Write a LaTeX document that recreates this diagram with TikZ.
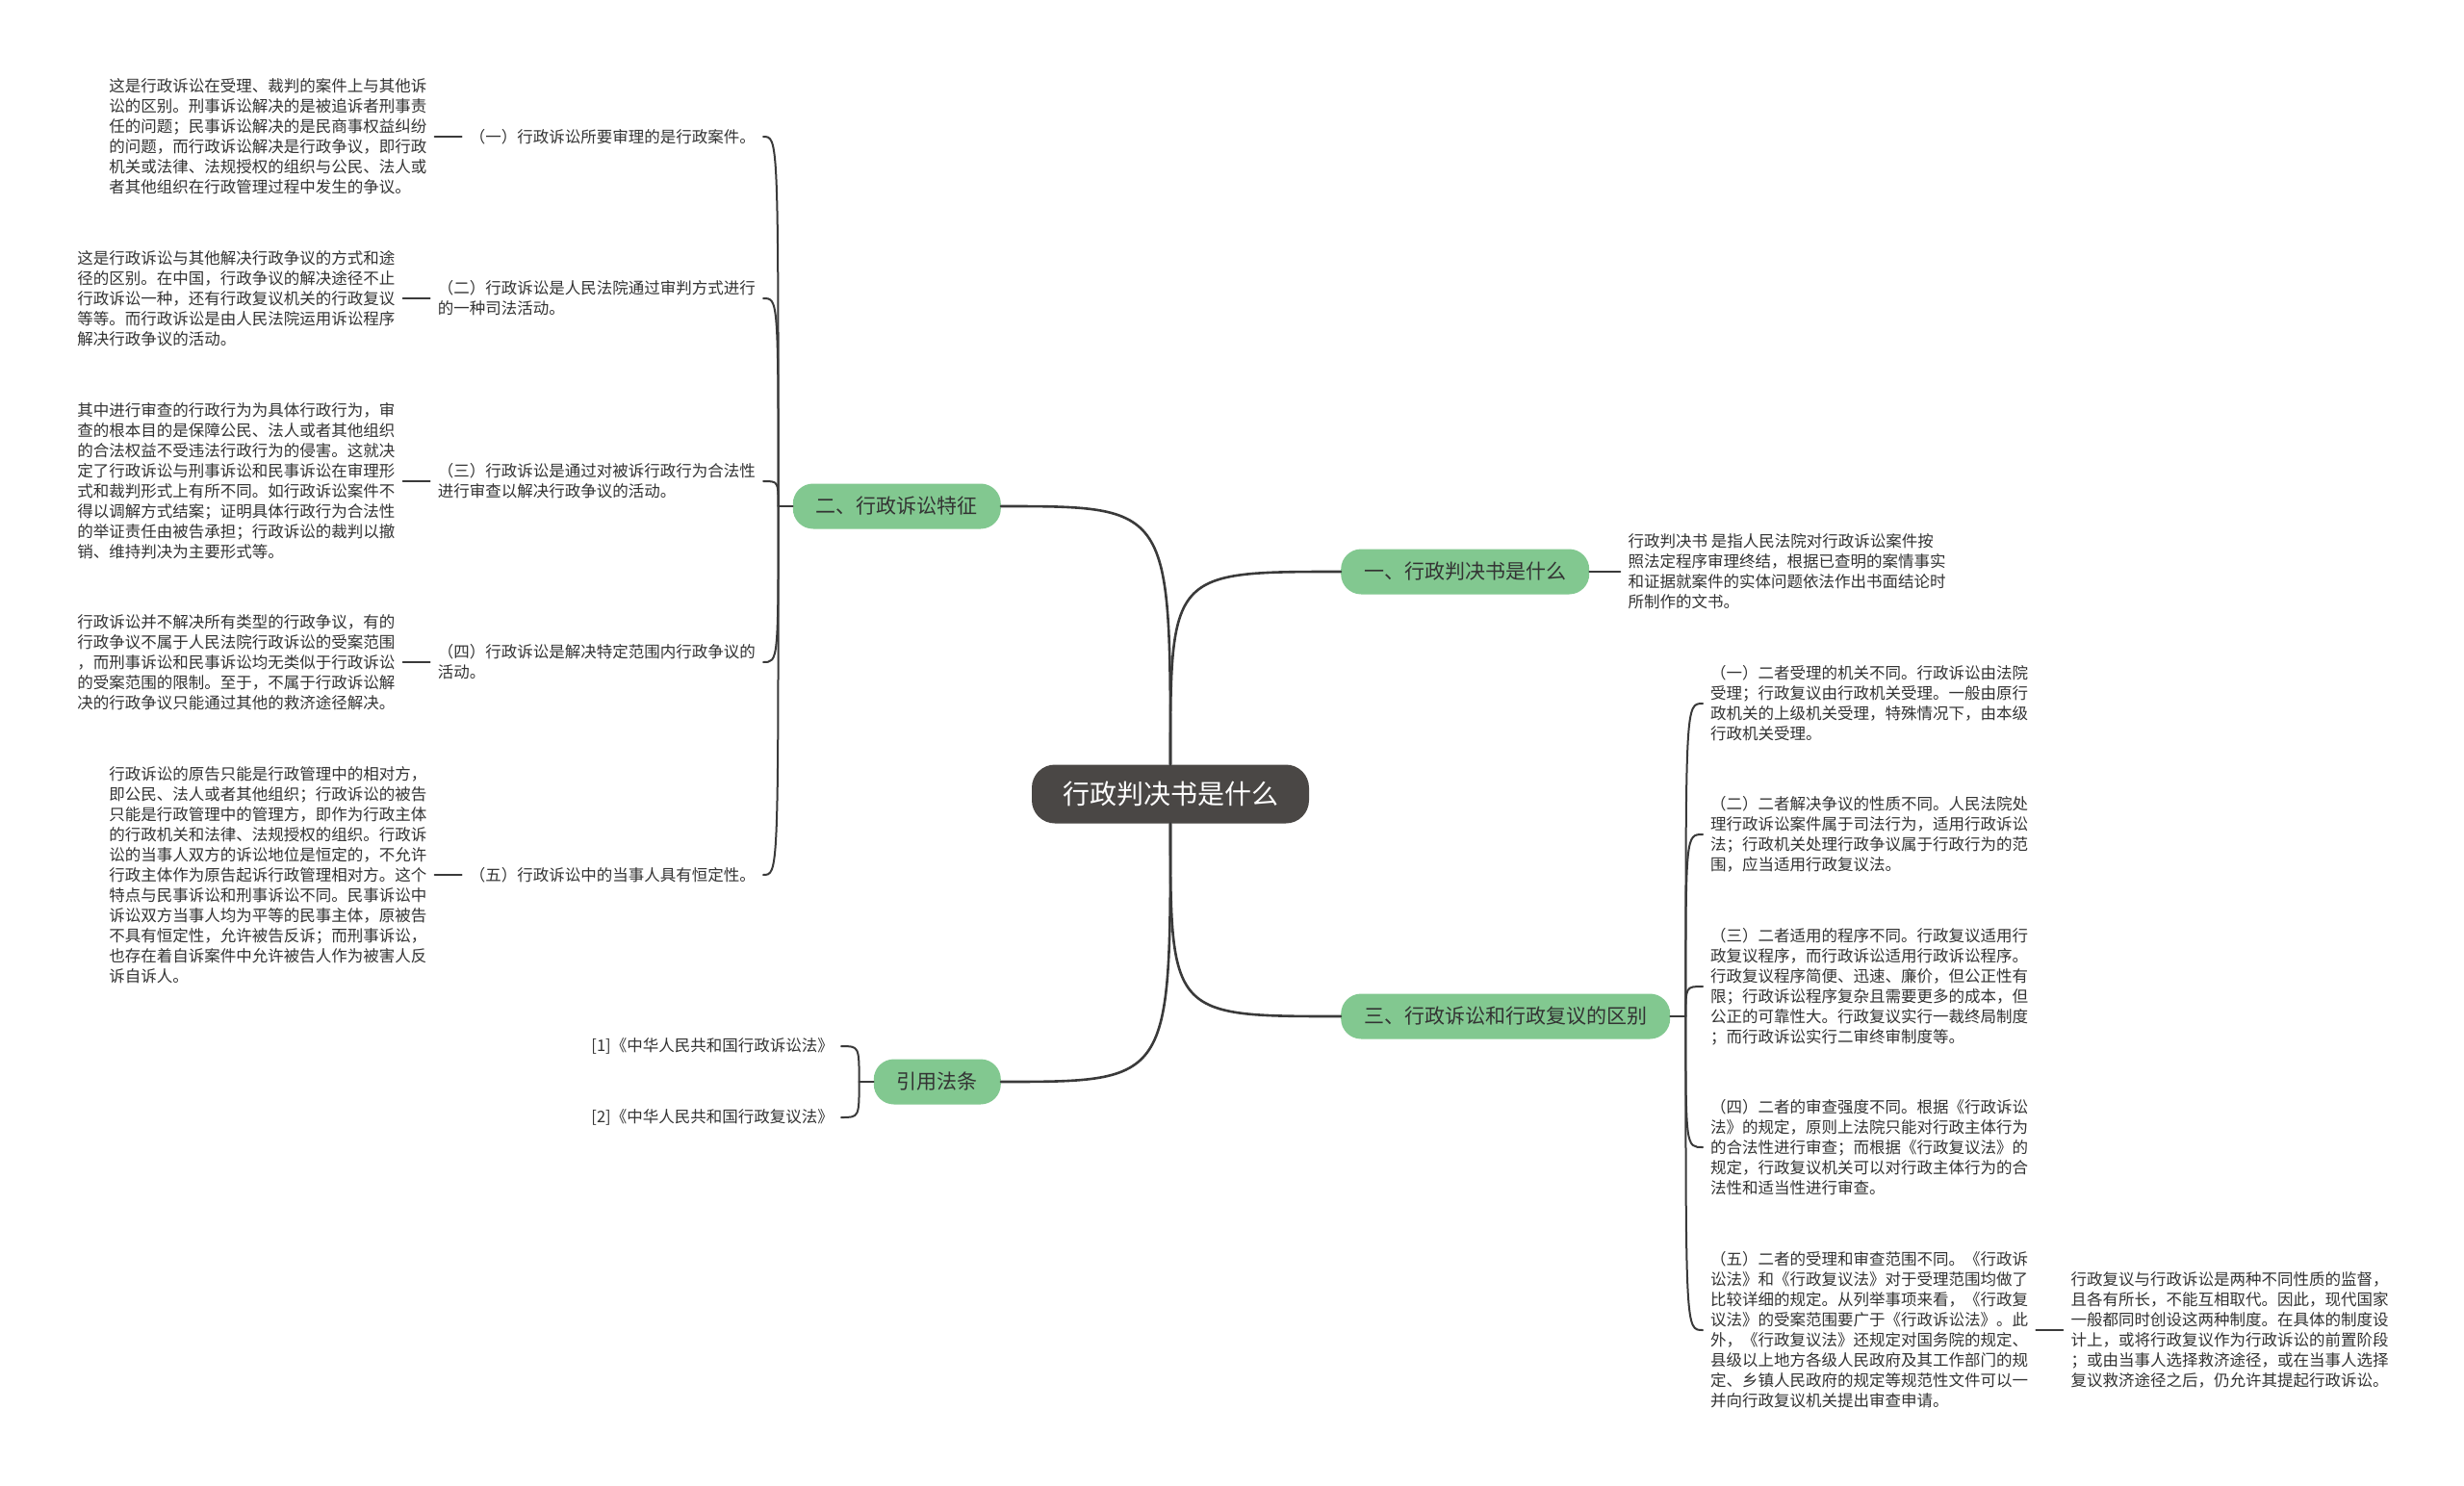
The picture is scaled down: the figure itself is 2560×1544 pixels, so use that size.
\documentclass[tikz,border=0pt]{standalone}
\usepackage{fontspec}
\setmainfont{Noto Sans CJK SC}
\usetikzlibrary{positioning}
\definecolor{rootgray}{HTML}{4A4745}
\definecolor{topicgreen}{HTML}{82C890}
\definecolor{inkgray}{HTML}{333333}
\definecolor{wiregray}{HTML}{3A3A3A}
\begin{document}
\begin{tikzpicture}[x=1pt, y=-1pt, line join=round, line cap=round]
	\tikzset{
		rootnode/.style={fill=rootgray, text=white, rounded corners=24pt, minimum height=61pt, inner xsep=32pt, font=\fontsize{28}{34}\selectfont},
		topicnode/.style={fill=topicgreen, text=inkgray, rounded corners=21pt, minimum height=47pt, inner xsep=24pt, font=\fontsize{21}{26}\selectfont},
		textnode/.style={align=left, text=inkgray, inner xsep=8pt, inner ysep=3pt, font=\fontsize{16.5}{21}\selectfont},
		wire/.style={draw=wiregray, line width=2pt},
		mainwire/.style={draw=wiregray, line width=2.6pt}
	}
	\fill[white] (0,0) rectangle (2560,1544);
	\useasboundingbox (0,0) rectangle (2560,1544);
	% centre and main topics
	\node[rootnode] (root) at (1216,825) {行政判决书是什么};
	\node[topicnode, anchor=west] (t1) at (1393,594) {一、行政判决书是什么};
	\node[topicnode, anchor=east] (t2) at (1040,526) {二、行政诉讼特征};
	\node[topicnode, anchor=west] (t3) at (1393,1056) {三、行政诉讼和行政复议的区别};
	\node[topicnode, anchor=east] (t4) at (1040,1124) {引用法条};
	\coordinate[left=15pt of t2] (j2);
	\coordinate[right=16pt of t3] (j3);
	\coordinate[left=15pt of t4] (j4);
	% 一
	\node[textnode, right=32pt of t1] (d1) {行政判决书 是指人民法院对行政诉讼案件按\\照法定程序审理终结，根据已查明的案情事实\\和证据就案件的实体问题依法作出书面结论时\\所制作的文书。};
	% 二
	\node[textnode, anchor=east] (f1) at (793,142) {（一）行政诉讼所要审理的是行政案件。};
	\node[textnode, anchor=east] (f2) at (793,310) {（二）行政诉讼是人民法院通过审判方式进行\\的一种司法活动。};
	\node[textnode, anchor=east] (f3) at (793,500) {（三）行政诉讼是通过对被诉行政行为合法性\\进行审查以解决行政争议的活动。};
	\node[textnode, anchor=east] (f4) at (793,688) {（四）行政诉讼是解决特定范围内行政争议的\\活动。};
	\node[textnode, anchor=east] (f5) at (793,909) {（五）行政诉讼中的当事人具有恒定性。};
	\node[textnode, left=28pt of f1] (e1) {这是行政诉讼在受理、裁判的案件上与其他诉\\讼的区别。刑事诉讼解决的是被追诉者刑事责\\任的问题；民事诉讼解决的是民商事权益纠纷\\的问题，而行政诉讼解决是行政争议，即行政\\机关或法律、法规授权的组织与公民、法人或\\者其他组织在行政管理过程中发生的争议。};
	\node[textnode, left=28pt of f2] (e2) {这是行政诉讼与其他解决行政争议的方式和途\\径的区别。在中国，行政争议的解决途径不止\\行政诉讼一种，还有行政复议机关的行政复议\\等等。而行政诉讼是由人民法院运用诉讼程序\\解决行政争议的活动。};
	\node[textnode, left=28pt of f3] (e3) {其中进行审查的行政行为为具体行政行为，审\\查的根本目的是保障公民、法人或者其他组织\\的合法权益不受违法行政行为的侵害。这就决\\定了行政诉讼与刑事诉讼和民事诉讼在审理形\\式和裁判形式上有所不同。如行政诉讼案件不\\得以调解方式结案；证明具体行政行为合法性\\的举证责任由被告承担；行政诉讼的裁判以撤\\销、维持判决为主要形式等。};
	\node[textnode, left=28pt of f4] (e4) {行政诉讼并不解决所有类型的行政争议，有的\\行政争议不属于人民法院行政诉讼的受案范围\\，而刑事诉讼和民事诉讼均无类似于行政诉讼\\的受案范围的限制。至于，不属于行政诉讼解\\决的行政争议只能通过其他的救济途径解决。};
	\node[textnode, left=28pt of f5] (e5) {行政诉讼的原告只能是行政管理中的相对方，\\即公民、法人或者其他组织；行政诉讼的被告\\只能是行政管理中的管理方，即作为行政主体\\的行政机关和法律、法规授权的组织。行政诉\\讼的当事人双方的诉讼地位是恒定的，不允许\\行政主体作为原告起诉行政管理相对方。这个\\特点与民事诉讼和刑事诉讼不同。民事诉讼中\\诉讼双方当事人均为平等的民事主体，原被告\\不具有恒定性，允许被告反诉；而刑事诉讼，\\也存在着自诉案件中允许被告人作为被害人反\\诉自诉人。};
	% 三
	\node[textnode, anchor=west] (g1) at (1769,731) {（一）二者受理的机关不同。行政诉讼由法院\\受理；行政复议由行政机关受理。一般由原行\\政机关的上级机关受理，特殊情况下，由本级\\行政机关受理。};
	\node[textnode, anchor=west] (g2) at (1769,867) {（二）二者解决争议的性质不同。人民法院处\\理行政诉讼案件属于司法行为，适用行政诉讼\\法；行政机关处理行政争议属于行政行为的范\\围，应当适用行政复议法。};
	\node[textnode, anchor=west] (g3) at (1769,1025) {（三）二者适用的程序不同。行政复议适用行\\政复议程序，而行政诉讼适用行政诉讼程序。\\行政复议程序简便、迅速、廉价，但公正性有\\限；行政诉讼程序复杂且需要更多的成本，但\\公正的可靠性大。行政复议实行一裁终局制度\\；而行政诉讼实行二审终审制度等。};
	\node[textnode, anchor=west] (g4) at (1769,1192) {（四）二者的审查强度不同。根据《行政诉讼\\法》的规定，原则上法院只能对行政主体行为\\的合法性进行审查；而根据《行政复议法》的\\规定，行政复议机关可以对行政主体行为的合\\法性和适当性进行审查。};
	\node[textnode, anchor=west] (g5) at (1769,1382) {（五）二者的受理和审查范围不同。《行政诉\\讼法》和《行政复议法》对于受理范围均做了\\比较详细的规定。从列举事项来看，《行政复\\议法》的受案范围要广于《行政诉讼法》。此\\外，《行政复议法》还规定对国务院的规定、\\县级以上地方各级人民政府及其工作部门的规\\定、乡镇人民政府的规定等规范性文件可以一\\并向行政复议机关提出审查申请。};
	\node[textnode, right=28pt of g5] (h5) {行政复议与行政诉讼是两种不同性质的监督，\\且各有所长，不能互相取代。因此，现代国家\\一般都同时创设这两种制度。在具体的制度设\\计上，或将行政复议作为行政诉讼的前置阶段\\；或由当事人选择救济途径，或在当事人选择\\复议救济途径之后，仍允许其提起行政诉讼。};
	% 引用法条
	\node[textnode, anchor=east] (r1) at (874,1087) {[1]《中华人民共和国行政诉讼法》};
	\node[textnode, anchor=east] (r2) at (874,1161) {[2]《中华人民共和国行政复议法》};
	% wires
	\draw[mainwire] (root.north) .. controls (root.north |- t1.west) .. (t1.west);
	\draw[mainwire] (root.north) .. controls (root.north |- t2.east) .. (t2.east);
	\draw[mainwire] (root.south) .. controls (root.south |- t3.west) .. (t3.west);
	\draw[mainwire] (root.south) .. controls (root.south |- t4.east) .. (t4.east);
	\draw[wire] (t1.east) -- (d1.west);
	\draw[wire] (t2.west) -- (j2);
	\draw[wire] (t3.east) -- (j3);
	\draw[wire] (t4.west) -- (j4);
	\foreach \i in {1,...,5}
	{\draw[wire] (j2) .. controls (j2 |- f\i.east) .. (f\i.east);
		\draw[wire] (f\i.west) -- (e\i.east);
		\draw[wire] (j3) .. controls (j3 |- g\i.west) .. (g\i.west);}
	\draw[wire] (g5.east) -- (h5.west);
	\foreach \i in {1,2}
	\draw[wire] (j4) .. controls (j4 |- r\i.east) .. (r\i.east);
\end{tikzpicture}
\end{document}
